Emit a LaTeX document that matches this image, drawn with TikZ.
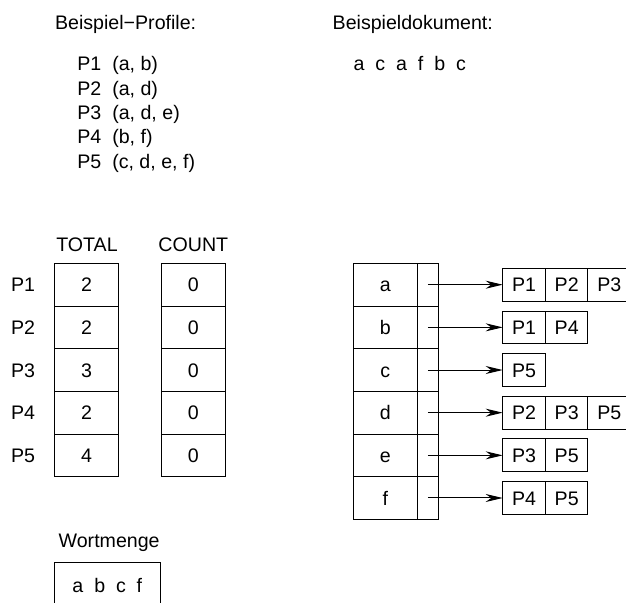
\documentclass[tikz,border=0pt]{standalone}
\usepackage{fontspec}
\setmainfont{Liberation Sans}
\usetikzlibrary{arrows.meta}

\tikzset{
    cell/.style={draw, line width=0.5pt, outer sep=0pt, inner sep=0pt,
        minimum width=32pt, minimum height=21.33pt,
        text height=0.72em, text depth=0pt},
    ptrcell/.style={cell, minimum width=10.5pt},
    listcell/.style={cell, minimum width=21.33pt, minimum height=16.35pt},
    txt/.style={inner sep=0pt, anchor=base west},
    ptr/.style={-{Stealth[length=8.5pt, width=4pt]}, line width=0.5pt}
}

\begin{document}
\begin{tikzpicture}[x=0.5pt, y=-0.5pt, font=\fontsize{9.8}{12}\selectfont]
    \clip (0,0) rectangle (626,603);

    % profiles
    \node[txt] (proftitle) at (54.7,29.3) {Beispiel−Profile:};
    \foreach \p/\w [count=\i] in {P1/{(a, b)}, P2/{(a, d)}, P3/{(a, d, e)}, P4/{(b, f)}, P5/{(c, d, e, f)}}
        \node[txt] (prof\i) at (77,{71+24.3*(\i-1)}) {\p~~\w};

    % document
    \node[txt] (doctitle) at (332.3,29.3) {Beispieldokument:};
    \node[txt] (doc) at (353.3,71) {a~~c~~a~~f~~b~~c};

    % TOTAL and COUNT
    \node[inner sep=0pt, anchor=base] (totalhead) at (87,251.7) {TOTAL};
    \node[inner sep=0pt, anchor=base] (counthead) at (193.3,251.7) {COUNT};
    \foreach \p/\t [count=\i] in {P1/2, P2/2, P3/3, P4/2, P5/4} {
        \node[text height=0.72em, text depth=0pt] (plab\i) at (23,{284.7+42.66*(\i-1)}) {\p};
        \node[cell] (tot\i) at (86.5,{284.7+42.66*(\i-1)}) {\t};
        \node[cell] (cnt\i) at (193.3,{284.7+42.66*(\i-1)}) {0};
    }

    % word index
    \foreach \w [count=\i] in {a,b,c,d,e,f} {
        \node[cell] (wort\i) at (385.3,{284.7+42.66*(\i-1)}) {\w};
        \node[ptrcell] (zeig\i) at (427.8,{284.7+42.66*(\i-1)}) {};
    }
    \foreach \lst [count=\i] in {{P1,P2,P3},{P1,P4},{P5},{P2,P3,P5},{P3,P5},{P4,P5}} {
        \foreach \p [count=\j] in \lst
            \node[listcell] (list\i\j) at ({524+42.66*(\j-1)},{284.7+42.66*(\i-1)}) {\p};
        \draw[ptr] (zeig\i.center) -- (list\i1.west);
    }

    % word set
    \node[txt] (setttitle) at (58.3,547.3) {Wortmenge};
    \node[draw, line width=0.5pt, anchor=north, minimum width=53.35pt,
        text height=0.72em, text depth=12pt, inner ysep=8pt] (wortmenge) at (107.35,561.7) {a~~b~~c~~f};
\end{tikzpicture}
\end{document}
